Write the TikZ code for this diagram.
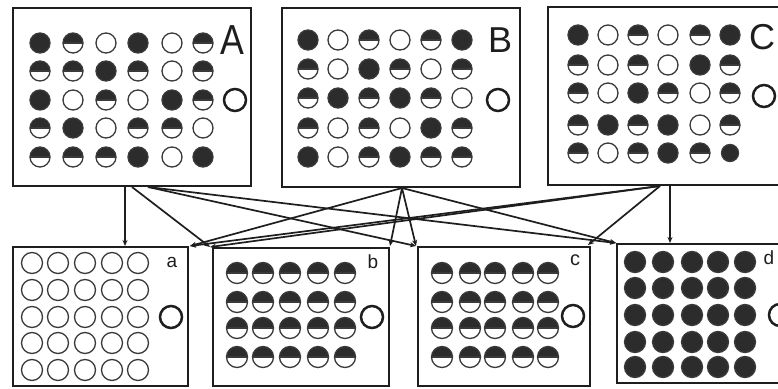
\documentclass[tikz,border=0pt]{standalone}
\usepackage{fontspec}
\setmainfont{Liberation Sans}
\usetikzlibrary{arrows.meta}
\definecolor{ink}{HTML}{1E1E1E}
\definecolor{dk}{HTML}{2C2C2C}
\definecolor{rg}{HTML}{3A3A3A}
\tikzset{
  frame/.style={draw=ink,line width=2pt,inner sep=0pt},
  ring/.style={draw=rg,line width=1.3pt},
  link/.style={draw=ink,line width=1.7pt,-{Stealth[length=6pt,width=5pt]}},
  bigo/.style={draw=ink,line width=2.5pt,circle,inner sep=0pt},
  lab/.style={inner sep=0pt,text=ink},
}
\newcommand\dotF[3]{\fill[dk] (#1,#2) circle[radius=#3]; \draw[ring] (#1,#2) circle[radius=#3];}
\newcommand\dotH[3]{\fill[dk] (#1,#2) ++(-#3,0) arc[start angle=180,end angle=0,radius=#3] -- cycle; \draw[ring] (#1,#2) circle[radius=#3]; \draw[ring] (#1,#2) ++(-#3,0) -- ++(2*#3,0);}
\newcommand\dotE[3]{\draw[ring] (#1,#2) circle[radius=#3];}
\newcommand\dotrow[3]{\foreach \xx/\kk in {#2}{\csname dot\kk\endcsname{\xx}{#1}{#3}}}
\begin{document}
\begin{tikzpicture}[x=1pt,y=-1pt]
\useasboundingbox (0,0) rectangle (778,388);
\clip (0,0) rectangle (778,388);
\fill[white] (0,0) rectangle (778,388);
% boxes
\node[frame,minimum width=238pt,minimum height=178pt] (A) at (132,97) {};
\node[frame,minimum width=238pt,minimum height=179pt] (B) at (401,97.5) {};
\node[frame,minimum width=242pt,minimum height=178pt] (C) at (669,96) {};
\node[frame,minimum width=175pt,minimum height=139pt] (a) at (100.5,316.5) {};
\node[frame,minimum width=176pt,minimum height=138pt] (b) at (301,317) {};
\node[frame,minimum width=172pt,minimum height=139pt] (c) at (504,316.5) {};
\node[frame,minimum width=173pt,minimum height=139pt] (d) at (703.5,313.5) {};
% dots A
\dotrow{43}{40/F,73/H,106/E,138/F,172/E,203/H}{10pt}
\dotrow{71}{40/H,73/H,106/F,138/H,172/E,203/H}{10pt}
\dotrow{100}{40/F,73/E,106/H,138/E,172/F,203/H}{10pt}
\dotrow{128}{40/H,73/F,106/E,138/H,172/H,203/E}{10pt}
\dotrow{157}{40/H,73/H,106/H,138/F,172/E,203/F}{10pt}
% dots B
\dotrow{40}{308/F,338/E,369/H,400/E,431/H,462/F}{10pt}
\dotrow{69}{308/H,338/E,369/F,400/H,431/E,462/H}{10pt}
\dotrow{98}{308/H,338/F,369/H,400/F,431/H,462/E}{10pt}
\dotrow{128}{308/H,338/E,369/H,400/E,431/F,462/H}{10pt}
\dotrow{157}{308/F,338/E,369/H,400/F,431/H,462/H}{10pt}
% dots C
\dotrow{35}{578/F,608/E,638/H,668/E,700/H,730/F}{10pt}
\dotrow{65}{578/H,608/E,638/H,668/E,700/F,730/H}{10pt}
\dotrow{93}{578/H,608/E,638/F,668/H,700/E,730/H}{10pt}
\dotrow{125}{578/H,608/F,638/H,668/F,700/E,730/H}{10pt}
\dotrow{153}{578/H,608/E,638/H,668/F,700/H}{10pt}
\dotF{730}{153}{8.5pt}
% dots a, b, c, d
\foreach \yy in {263,290,317,343,370}{\dotrow{\yy}{32/E,58/E,85/E,112/E,138/E}{10.5pt}}
\foreach \yy in {273,302,328,357}{\dotrow{\yy}{237/H,263/H,290/H,318/H,345/H}{10.5pt}}
\foreach \yy in {273,302,328,357}{\dotrow{\yy}{442/H,470/H,495/H,523/H,548/H}{10.5pt}}
\foreach \yy in {262,288,315,342,367}{\dotrow{\yy}{635/F,663/F,692/F,718/F,745/F}{10.5pt}}
% labels
\node[lab,font=\fontsize{42}{42}\selectfont,xscale=0.85] (lA) at (232,40) {A};
\node[lab,font=\fontsize{36}{36}\selectfont] (lB) at (500,40) {B};
\node[lab,font=\fontsize{36}{36}\selectfont] (lC) at (762,37) {C};
\node[lab,font=\fontsize{19}{19}\selectfont] (la) at (172,262) {a};
\node[lab,font=\fontsize{19}{19}\selectfont] (lb) at (373,262) {b};
\node[lab,font=\fontsize{20}{20}\selectfont] (lc) at (575,260) {c};
\node[lab,font=\fontsize{19}{19}\selectfont] (ld) at (769,258) {d};
% big O
\node[bigo,minimum size=22pt] (oA) at (235,100) {};
\node[bigo,minimum size=22pt] (oB) at (498,100) {};
\node[bigo,minimum size=22pt] (oC) at (764,96) {};
\node[bigo,minimum size=22pt] (oa) at (171,317) {};
\node[bigo,minimum size=22pt] (ob) at (372,317) {};
\node[bigo,minimum size=22pt] (oc) at (573,316) {};
\node[bigo,minimum size=22pt] (od) at (780,315) {};
% connector ends
\coordinate (Aa) at (125,187);
\coordinate (Ab) at (132,187);
\coordinate (Ar) at (148,187);
\coordinate (Bf) at (402,188);
\coordinate (Cf) at (660,186);
\coordinate (Cd) at (670,186);
\coordinate (aT) at (125,246);
\coordinate (aR) at (190,246);
\coordinate (bL) at (210,247);
\coordinate (bR) at (390,246);
\coordinate (cL) at (416,246);
\coordinate (cR) at (588,245);
\coordinate (dL) at (616,243);
\coordinate (dT) at (670,243);
% connectors
\draw[link] (Aa) -- (aT);
\draw[link] (Ab) -- (bL);
\draw[link] (Ar) -- (cL);
\draw[link] (Ar) -- (dL);
\draw[link] (Bf) -- (aR);
\draw[link] (Bf) -- (bR);
\draw[link] (Bf) -- (cL);
\draw[link] (Bf) -- (dL);
\draw[link] (Cf) -- (aR);
\draw[link] (Cf) -- (bL);
\draw[link] (Cf) -- (cR);
\draw[link] (Cd) -- (dT);
\end{tikzpicture}
\end{document}
